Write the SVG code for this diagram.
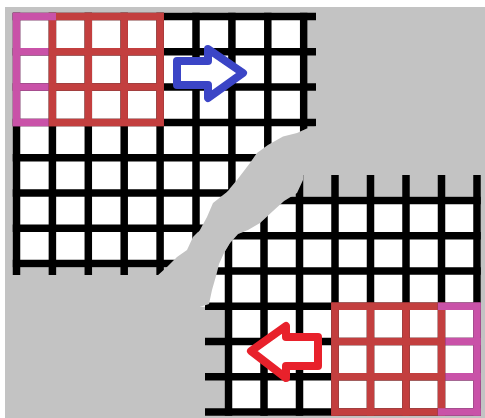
<svg xmlns="http://www.w3.org/2000/svg" width="485" height="418" viewBox="0 0 485 418">
  <defs>
    <style>
      .bg { fill: #c3c3c3; }
      .paper { fill: #ffffff; }
      .grid line { stroke: #000000; stroke-width: 7.5; stroke-linecap: butt; }
      .red line { stroke: #c33f3f; stroke-width: 7.5; stroke-linecap: butt; }
      .pink line { stroke: #c952a8; stroke-width: 7.5; stroke-linecap: butt; }
      .arrow { fill: #ffffff; stroke-width: 8; stroke-linejoin: round; }
    </style>
    <clipPath id="clipTL">
      <polygon points="0,0 330,0 330,120 316,126.5 307,128.5 297,133 283,136.5 268,145 257,153 250,163 237,180 227,192 213,203 207,217 200,230 193,237 187,250 177,257 167,267 157,276 150,290 0,290"/>
    </clipPath>
    <clipPath id="clipBR">
      <polygon points="303,150 485,150 485,418 190,418 190,310 209,304 212,290 216,276 219,264 224,253 230,243 238,234 248,230 260,223 273,211 284,201 297,193 303,180"/>
    </clipPath>
  </defs>

  <rect x="0" y="0" width="485" height="418" fill="#ffffff"/>
  <rect class="bg" x="5" y="7" width="480" height="411"/>

  <g id="sheet-top-left" clip-path="url(#clipTL)">
    <rect class="paper" x="12.75" y="12.75" width="294.7" height="254.6"/>
    <g class="grid">
      <line x1="16.5" y1="12.75" x2="16.5" y2="275"/>
      <line x1="52.4" y1="12.75" x2="52.4" y2="275"/>
      <line x1="88.3" y1="12.75" x2="88.3" y2="275"/>
      <line x1="124.2" y1="12.75" x2="124.2" y2="275"/>
      <line x1="160.1" y1="12.75" x2="160.1" y2="275"/>
      <line x1="196" y1="12.75" x2="196" y2="275"/>
      <line x1="231.9" y1="12.75" x2="231.9" y2="275"/>
      <line x1="267.8" y1="12.75" x2="267.8" y2="275"/>
      <line x1="303.7" y1="12.75" x2="303.7" y2="275"/>
      <line x1="12.75" y1="16.5" x2="316" y2="16.5"/>
      <line x1="12.75" y1="51.8" x2="316" y2="51.8"/>
      <line x1="12.75" y1="87.1" x2="316" y2="87.1"/>
      <line x1="12.75" y1="122.4" x2="316" y2="122.4"/>
      <line x1="12.75" y1="157.7" x2="316" y2="157.7"/>
      <line x1="12.75" y1="193" x2="316" y2="193"/>
      <line x1="12.75" y1="228.3" x2="316" y2="228.3"/>
      <line x1="12.75" y1="263.6" x2="316" y2="263.6"/>
    </g>
  </g>

  <g id="highlight-top-left">
    <g class="red">
      <line x1="52.4" y1="12.75" x2="52.4" y2="126.15"/>
      <line x1="88.3" y1="12.75" x2="88.3" y2="126.15"/>
      <line x1="124.2" y1="12.75" x2="124.2" y2="126.15"/>
      <line x1="160.1" y1="12.75" x2="160.1" y2="126.15"/>
      <line x1="56" y1="16.5" x2="163.85" y2="16.5"/>
      <line x1="48.65" y1="51.8" x2="163.85" y2="51.8"/>
      <line x1="48.65" y1="87.1" x2="163.85" y2="87.1"/>
      <line x1="48.65" y1="122.4" x2="163.85" y2="122.4"/>
    </g>
    <g class="pink">
      <line x1="16.5" y1="12.75" x2="16.5" y2="126.15"/>
      <line x1="12.75" y1="16.5" x2="56" y2="16.5"/>
      <line x1="12.75" y1="51.8" x2="48.65" y2="51.8"/>
      <line x1="12.75" y1="87.1" x2="48.65" y2="87.1"/>
      <line x1="12.75" y1="122.4" x2="48.65" y2="122.4"/>
    </g>
  </g>

  <g id="sheet-bottom-right" clip-path="url(#clipBR)">
    <rect class="paper" x="224.75" y="196.75" width="256" height="219.25"/>
    <rect class="paper" x="200" y="196.75" width="30" height="110"/>
    <g class="grid">
      <line x1="228.5" y1="175" x2="228.5" y2="415.75"/>
      <line x1="264" y1="175" x2="264" y2="415.75"/>
      <line x1="299.5" y1="175" x2="299.5" y2="415.75"/>
      <line x1="335" y1="175" x2="335" y2="415.75"/>
      <line x1="370.5" y1="175" x2="370.5" y2="415.75"/>
      <line x1="406" y1="175" x2="406" y2="415.75"/>
      <line x1="441.5" y1="175" x2="441.5" y2="415.75"/>
      <line x1="477" y1="175" x2="477" y2="415.75"/>
      <line x1="205" y1="200.5" x2="480.75" y2="200.5"/>
      <line x1="205" y1="235.75" x2="480.75" y2="235.75"/>
      <line x1="205" y1="271" x2="480.75" y2="271"/>
      <line x1="205" y1="306.25" x2="480.75" y2="306.25"/>
      <line x1="205" y1="341.5" x2="480.75" y2="341.5"/>
      <line x1="205" y1="376.75" x2="480.75" y2="376.75"/>
      <line x1="205" y1="412" x2="480.75" y2="412"/>
    </g>
  </g>

  <g id="highlight-bottom-right">
    <g class="red">
      <line x1="335" y1="302.5" x2="335" y2="415.75"/>
      <line x1="370.5" y1="302.5" x2="370.5" y2="415.75"/>
      <line x1="406" y1="302.5" x2="406" y2="415.75"/>
      <line x1="441.5" y1="302.5" x2="441.5" y2="415.75"/>
      <line x1="331.25" y1="306.25" x2="437.75" y2="306.25"/>
      <line x1="331.25" y1="341.5" x2="445.25" y2="341.5"/>
      <line x1="331.25" y1="376.75" x2="445.25" y2="376.75"/>
      <line x1="331.25" y1="412" x2="437.75" y2="412"/>
    </g>
    <g class="pink">
      <line x1="477" y1="302.5" x2="477" y2="415.75"/>
      <line x1="437.75" y1="306.25" x2="480.75" y2="306.25"/>
      <line x1="445.25" y1="341.5" x2="480.75" y2="341.5"/>
      <line x1="445.25" y1="376.75" x2="480.75" y2="376.75"/>
      <line x1="437.75" y1="412" x2="480.75" y2="412"/>
    </g>
  </g>

  <g id="arrow-right">
    <polygon class="arrow" stroke="#3b45c6" points="177,61 208,61 208,49 243,73 208,98 208,85 177,85"/>
  </g>

  <g id="arrow-left">
    <polygon class="arrow" stroke="#e8212b" points="251,351 286,326 286,337 318,337 318,366 286,366 286,378"/>
  </g>
</svg>
